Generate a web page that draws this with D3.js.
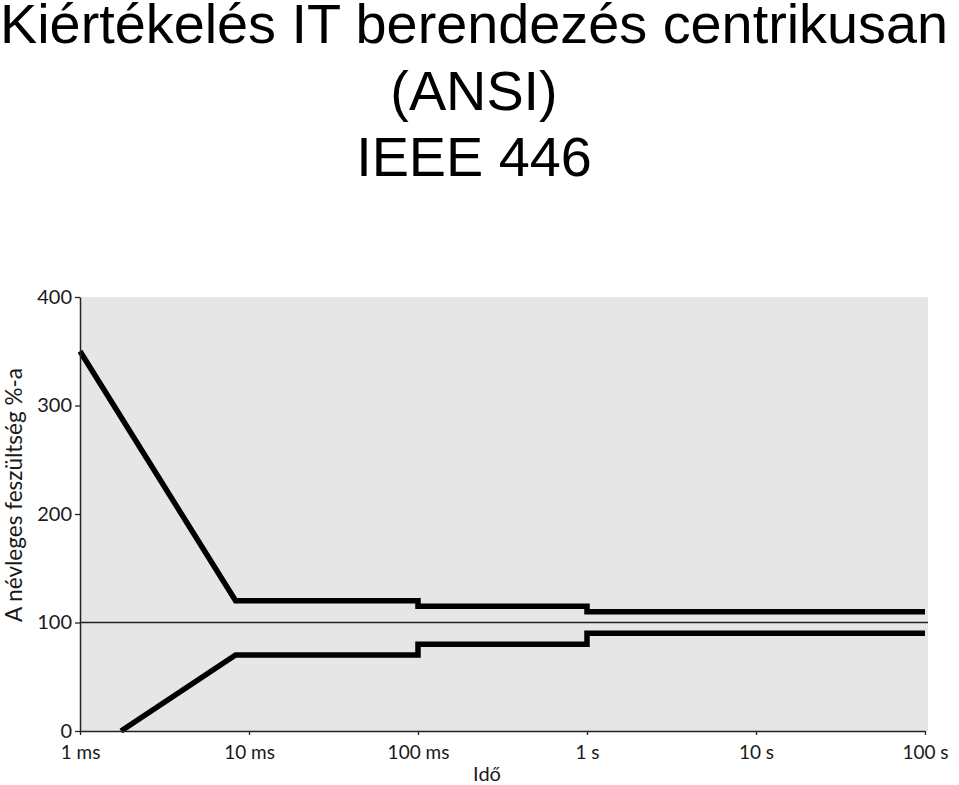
<!DOCTYPE html>
<html><head><meta charset="utf-8">
<script src="https://cdn.jsdelivr.net/npm/d3@7"></script>
<style>body{margin:0;background:#fff}svg{display:block}</style>
</head><body>
<svg id="c" width="959" height="785"></svg>
<script>
// Data (time in seconds, value in % of nominal voltage)
const titleLines = ["Kiértékelés IT berendezés centrikusan", "(ANSI)", "IEEE 446"];
const xTickValues = [0.001, 0.01, 0.1, 1, 10, 100];
const xTickLabels = ["1 ms", "10 ms", "100 ms", "1 s", "10 s", "100 s"];
const yTickValues = [0, 100, 200, 300, 400];
const upperTimes  = [0.001, 0.00833, 0.1, 0.1, 1, 1, 100];
const upperValues = [350, 120, 120, 115, 115, 110, 110];
const lowerTimes  = [0.00175, 0.00833, 0.1, 0.1, 1, 1, 100];
const lowerValues = [0, 70, 70, 80, 80, 90, 90];
const referenceValue = 100;
const xLabel = "Idő";
const yLabel = "A névleges feszültség %-a";

const svg = d3.select("#c");
const x = d3.scaleLog().domain([0.001, 100]).range([80, 925]);
const y = d3.scaleLinear().domain([0, 400]).range([731, 297]);

// Title
svg.append("g").selectAll("text").data(titleLines).join("text")
  .attr("x", 474).attr("y", (d, i) => 43 + i * 66.5)
  .attr("text-anchor", "middle")
  .attr("font-family", "Liberation Sans, Arial, sans-serif")
  .attr("font-size", 55.8).attr("fill", "#000").text(d => d);

// Plot background
svg.append("rect").attr("x", x(0.001)).attr("y", y(400))
  .attr("width", 928 - x(0.001)).attr("height", y(0) - y(400))
  .attr("fill", "#e6e6e6");

// Reference line at 100%
svg.append("line").attr("x1", x(0.001)).attr("x2", 928)
  .attr("y1", y(referenceValue)).attr("y2", y(referenceValue))
  .attr("stroke", "#222").attr("stroke-width", 1.3);

// Curves
const line = d3.line().x(d => x(d[0])).y(d => y(d[1]));
const upper = upperTimes.map((t, i) => [t, upperValues[i]]);
const lower = lowerTimes.map((t, i) => [t, lowerValues[i]]);
[upper, lower].forEach(s => {
  svg.append("path").datum(s).attr("d", line)
    .attr("fill", "none").attr("stroke", "#000")
    .attr("stroke-width", 5.5).attr("stroke-linejoin", "miter")
    .attr("stroke-linecap", "butt");
});

const tickFont = "Lato, 'Open Sans', sans-serif";

// X axis
const xAxis = svg.append("g").attr("transform", `translate(0,${y(0)})`)
  .call(d3.axisBottom(x).tickValues(xTickValues)
    .tickFormat((d, i) => xTickLabels[i]).tickSize(4).tickSizeOuter(0).tickPadding(11));
xAxis.select(".domain").attr("stroke", "#222").attr("stroke-width", 1.5);
xAxis.selectAll(".tick line").attr("stroke", "#222").attr("stroke-width", 1.3);
xAxis.selectAll("text").attr("font-family", tickFont).attr("font-size", 19).attr("fill", "#1a1a1a");

// Y axis
const yAxis = svg.append("g").attr("transform", `translate(${x(0.001)},0)`)
  .call(d3.axisLeft(y).tickValues(yTickValues).tickSize(5).tickSizeOuter(0).tickPadding(3));
yAxis.select(".domain").attr("stroke", "#222").attr("stroke-width", 1.5);
yAxis.selectAll(".tick line").attr("stroke", "#222").attr("stroke-width", 1.3);
yAxis.selectAll("text").attr("font-family", tickFont).attr("font-size", 20).attr("fill", "#1a1a1a");

// Axis titles
svg.append("text").attr("x", 487).attr("y", 781).attr("text-anchor", "middle")
  .attr("font-family", tickFont).attr("font-size", 20).attr("fill", "#1a1a1a").text(xLabel);
svg.append("text").attr("transform", "translate(22,495) rotate(-90)")
  .attr("text-anchor", "middle")
  .attr("font-family", tickFont).attr("font-size", 22.5).attr("fill", "#1a1a1a").text(yLabel);
</script>
</body></html>
